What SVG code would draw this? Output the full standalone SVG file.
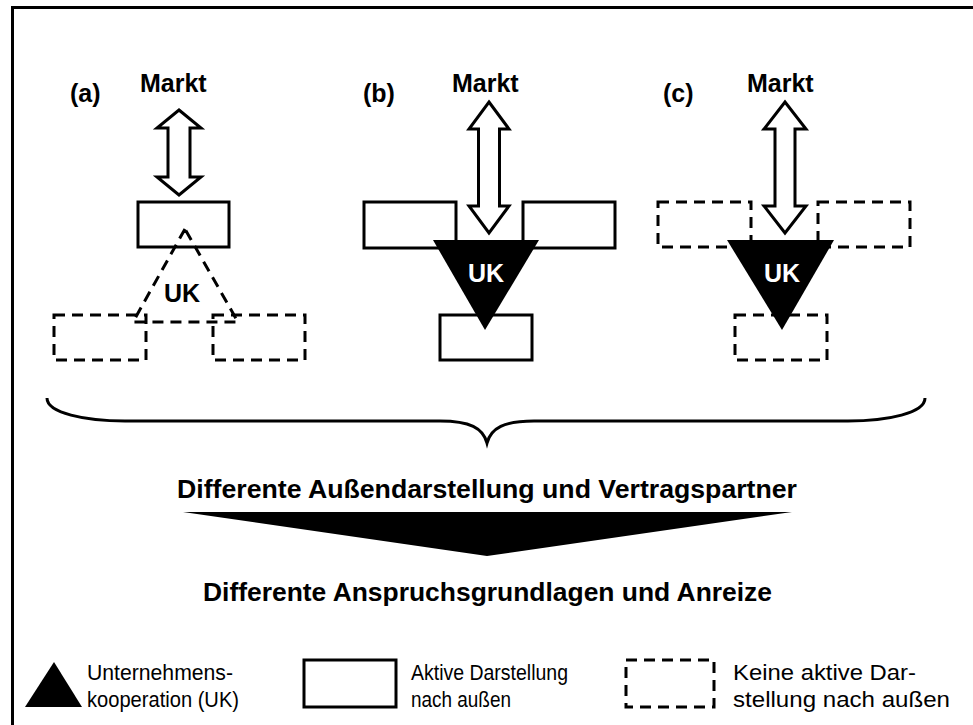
<svg xmlns="http://www.w3.org/2000/svg" width="973" height="725" viewBox="0 0 973 725">
<style>
.frame{fill:none;stroke:#000;stroke-width:3}
.box{fill:#fff;stroke:#000;stroke-width:3}
.dbox{fill:none;stroke:#000;stroke-width:3;stroke-dasharray:11 7}
.arr{fill:#fff;stroke:#000;stroke-width:3;stroke-linejoin:miter}
.uk{fill:#000}
.lbl{font-family:"Liberation Sans",Arial,sans-serif;font-weight:bold;font-size:25px;fill:#000}
.ukt{font-family:"Liberation Sans",Arial,sans-serif;font-weight:bold;font-size:25px;fill:#fff;text-anchor:middle}
.title{font-family:"Liberation Sans",Arial,sans-serif;font-weight:bold;font-size:26.5px;fill:#000}
.leg{font-family:"Liberation Sans",Arial,sans-serif;font-size:22px;fill:#000}
</style>
<rect width="973" height="725" fill="#fff"/>
<rect class="frame" x="12.5" y="7.5" width="1000" height="1000"/>

<g id="panel-a">
  <text class="lbl" x="70" y="102">(a)</text>
  <text class="lbl" x="140" y="92">Markt</text>
  <rect class="box" x="138" y="202" width="91" height="45"/>
  <polygon class="dbox" points="185,229 133,322 238,322"/>
  <rect class="dbox" x="54" y="315" width="92" height="45"/>
  <rect class="dbox" x="213" y="315" width="92" height="45"/>
  <text class="lbl" x="182" y="302" text-anchor="middle">UK</text>
</g>

<g id="panel-b">
  <text class="lbl" x="363" y="102">(b)</text>
  <text class="lbl" x="452" y="92">Markt</text>
  <rect class="box" x="364" y="202" width="92" height="46"/>
  <rect class="box" x="523" y="202" width="92" height="46"/>
  <rect class="box" x="440" y="315" width="92" height="45"/>
  <polygon class="uk" points="433,240 539,240 485,330"/>
  <text class="ukt" x="486" y="282">UK</text>
</g>

<g id="panel-c">
  <text class="lbl" x="663" y="102">(c)</text>
  <text class="lbl" x="747" y="92">Markt</text>
  <rect class="dbox" x="658" y="202" width="93" height="45"/>
  <rect class="dbox" x="818" y="202" width="92" height="45"/>
  <rect class="dbox" x="735" y="315" width="92" height="45"/>
  <polygon class="uk" points="727,240 834,240 782,330"/>
  <text class="ukt" x="782" y="282">UK</text>
</g>

<g id="connectors">
  <polygon class="arr" points="179,110 201,128 190,128 190,177 201,177 179,195 157,177 168,177 168,128 157,128"/>
  <polygon class="arr" points="489,102 509,129 499.5,129 499.5,206 509,206 489,233 469,206 478.5,206 478.5,129 469,129"/>
  <polygon class="arr" points="785,102 806,129 795,129 795,206 806,206 785,233 764,206 775,206 775,129 764,129"/>
  <path d="M47,398 C47,413 85,421 125,421 L440,421 C470,421 483,428 487,443 C491,428 504,421 534,421 L848,421 C888,421 925,413 925,398" fill="none" stroke="#000" stroke-width="3"/>
  <polygon fill="#000" points="183,512 792,512 487,556"/>
</g>

<g id="titles">
  <text class="title" x="177" y="498" textLength="620" lengthAdjust="spacingAndGlyphs">Differente Außendarstellung und Vertragspartner</text>
  <text class="title" x="203" y="601" textLength="569" lengthAdjust="spacingAndGlyphs">Differente Anspruchsgrundlagen und Anreize</text>
</g>

<g id="legend">
  <polygon fill="#000" points="25,707 82,707 54,662"/>
  <text class="leg" x="87" y="680" textLength="146" lengthAdjust="spacingAndGlyphs">Unternehmens-</text>
  <text class="leg" x="87" y="707" textLength="152" lengthAdjust="spacingAndGlyphs">kooperation (UK)</text>
  <rect class="box" x="304" y="660" width="92" height="47"/>
  <text class="leg" x="411" y="680" textLength="157" lengthAdjust="spacingAndGlyphs">Aktive Darstellung</text>
  <text class="leg" x="411" y="707" textLength="100" lengthAdjust="spacingAndGlyphs">nach außen</text>
  <rect class="dbox" x="626" y="660" width="88" height="47"/>
  <text class="leg" x="733" y="680" textLength="183" lengthAdjust="spacingAndGlyphs">Keine aktive Dar-</text>
  <text class="leg" x="733" y="707" textLength="217" lengthAdjust="spacingAndGlyphs">stellung nach außen</text>
</g>
</svg>
